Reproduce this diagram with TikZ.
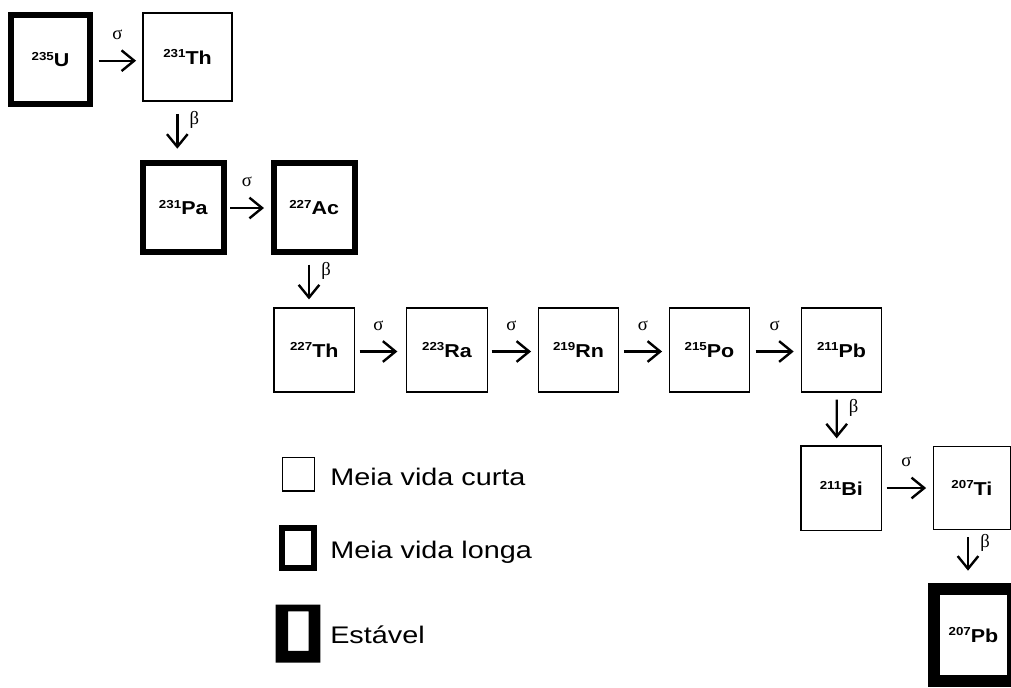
\documentclass[tikz,border=0pt]{standalone}
\usepackage{fontspec}
\setmainfont{Liberation Sans}
\newfontfamily\grk{Liberation Serif}
\usetikzlibrary{arrows.meta,calc}
\newcommand\iso[2]{\scalebox{1.15}[1]{\bfseries\raisebox{5pt}{\fontsize{8.7pt}{10pt}\selectfont #1}\fontsize{14pt}{16pt}\selectfont #2}}
\newcommand\legtext[1]{\scalebox{1.2}[1]{\fontsize{18pt}{20pt}\selectfont #1}}
\begin{document}
\begin{tikzpicture}[x=0.75pt,y=-0.75pt,
  sz/.style 2 args={minimum width=#1*0.75pt, minimum height=#2*0.75pt},
  shortbox/.style={draw, line width=0.9pt, inner sep=0pt},
  longbox/.style={draw, line width=4.5pt, inner sep=0pt},
  stablebox/.style={draw, line width=9pt, inner sep=0pt},
  arr/.style={line width=1.8pt, -{Straight Barb[length=9.5pt, width=15.5pt, line width=1.8pt]}},
  gs/.style={font=\grk\fontsize{14pt}{16pt}\selectfont, inner sep=0pt},
  sig/.style={midway, yshift=19.5pt, gs},
  bet/.style={midway, xshift=12.75pt, yshift=8.25pt, gs}]
\useasboundingbox (0,0) rectangle (1011,687);
\clip (0,0) rectangle (1011,687);
\fill[white] (0,0) rectangle (1011,687);

% nodes
\node[longbox, sz={79}{89}] (U) at (50.5,59.5) {\iso{235}{U}};
\node[shortbox, sz={89}{88}] (Th231) at (187.5,57) {\iso{231}{Th}};
\node[longbox, sz={80.5}{89}] (Pa) at (183.25,207.5) {\iso{231}{Pa}};
\node[longbox, sz={81.2}{89}] (Ac) at (314.1,207.5) {\iso{227}{Ac}};
\node[shortbox, sz={80.5}{84}] (Th227) at (314.25,350) {\iso{227}{Th}};
\node[shortbox, sz={80.5}{84}] (Ra) at (447,350) {\iso{223}{Ra}};
\node[shortbox, sz={80.5}{84}] (Rn) at (578.5,350) {\iso{219}{Rn}};
\node[shortbox, sz={80.5}{84}] (Po) at (709.5,350) {\iso{215}{Po}};
\node[shortbox, sz={80.5}{84}] (Pb211) at (841.5,350) {\iso{211}{Pb}};
\node[shortbox, sz={80.7}{84.7}] (Bi) at (841.3,488.3) {\iso{211}{Bi}};
\node[shortbox, sz={77}{83}] (Ti) at (971.9,488) {\iso{207}{Ti}};
\node[stablebox, sz={78.4}{91.3}] (Pb207) at (973.5,635.1) {\iso{207}{Pb}};

% connectors
\draw[arr] ($(U.east)+(5.7,1.2)$) -- ($(Th231.west)+(-6.3,3.7)$) node[sig]{σ};
\draw[arr] ($(Th231.south)+(-10.2,12.3)$) -- ($(Pa.north)+(-5.95,-11.3)$) node[bet]{β};
\draw[arr] ($(Pa.east)+(3.5,0.5)$) -- ($(Ac.west)+(-6.5,0.5)$) node[sig]{σ};
\draw[arr] ($(Ac.south)+(-5.1,9.7)$) -- ($(Th227.north)+(-5.25,-8)$) node[bet]{β};
\draw[arr] ($(Th227.east)+(4.5,1.5)$) -- ($(Ra.west)+(-8.75,1.5)$) node[sig]{σ};
\draw[arr] ($(Ra.east)+(3.75,1.5)$) -- ($(Rn.west)+(-6.55,1.5)$) node[sig]{σ};
\draw[arr] ($(Rn.east)+(4.55,1.5)$) -- ($(Po.west)+(-6.55,1.5)$) node[sig]{σ};
\draw[arr] ($(Po.east)+(5.25,1.5)$) -- ($(Pb211.west)+(-6.95,1.5)$) node[sig]{σ};
\draw[arr] ($(Pb211.south)+(-4.8,7)$) -- ($(Bi.north)+(-4.6,-7)$) node[bet]{β};
\draw[arr] ($(Bi.east)+(4.35,-0.3)$) -- ($(Ti.west)+(-6.7,0)$) node[sig]{σ};
\draw[arr] ($(Ti.south)+(-3.9,7.2)$) -- ($(Pb207.north)+(-5.5,-12.8)$) node[bet]{β};

% legend
\node[shortbox, sz={32}{33.7}] (legS) at (298.3,474.2) {};
\node[longbox, sz={31.7}{39.7}] (legL) at (298,548) {};
\node[inner sep=0pt, sz={44}{57.3}] (legE) at (298,633.6) {};
\fill[even odd rule] (legE.north west) rectangle (legE.south east)
  ($(legE.north west)+(12.3,6.7)$) rectangle ($(legE.south east)+(-11.7,-11.6)$);
\node[anchor=base west, inner sep=0pt] (tS) at (330,485) {\legtext{Meia vida curta}};
\node[anchor=base west, inner sep=0pt] (tL) at (330,558) {\legtext{Meia vida longa}};
\node[anchor=base west, inner sep=0pt] (tE) at (330,643.3) {\legtext{Estável}};
\end{tikzpicture}
\end{document}
